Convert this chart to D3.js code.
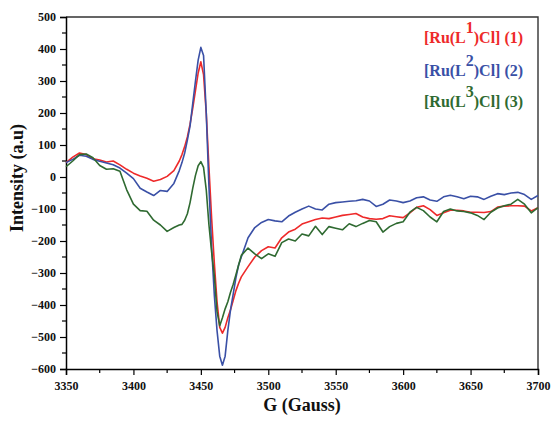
<!DOCTYPE html>
<html>
<head>
<meta charset="utf-8">
<script src="https://cdn.jsdelivr.net/npm/d3@7/dist/d3.min.js"></script>
<style>
  html, body { margin: 0; padding: 0; background: #fff; }
  svg { display: block; }
  text { font-family: "Liberation Serif", "Times New Roman", serif; font-weight: bold; }
</style>
</head>
<body>
<svg id="chart" width="553" height="423"></svg>
<script>
// ---- data ----
const field = [3350,3355,3360,3365,3370,3375,3380,3385,3390,3395,3400,3405,3410,3415,3420,3425,3430,3434,
  3436,3438,3440,3442,3444,3446,3448,3450,3452,3454,3456,3458,3460,3462,3464,3466,3468,3470,3472,3474,3476,3478,3480,
  3485,3490,3495,3500,3505,3510,3515,3520,3525,3530,3535,3540,3545,3550,3555,3560,3565,3570,3575,3580,3585,3590,3595,
  3600,3605,3610,3615,3620,3625,3630,3635,3640,3645,3650,3655,3660,3665,3670,3675,3680,3685,3690,3695,3700];

const red = [45,62,75,70,57,53,47,50,38,24,12,3,-4,-13,-8,2,20,50,
  70,95,125,165,215,270,325,360,320,200,30,-130,-270,-390,-470,-488,-470,-440,-415,-385,-355,-332,-312,
  -280,-250,-230,-218,-222,-190,-172,-163,-147,-140,-133,-128,-130,-125,-120,-117,-114,-125,-130,-132,-130,-121,-124,
  -127,-112,-95,-90,-102,-120,-112,-104,-104,-106,-110,-110,-111,-108,-94,-91,-90,-90,-91,-106,-96];

const blue = [45,55,68,65,55,49,44,38,28,12,-5,-35,-47,-58,-42,-45,-20,20,
  45,75,115,160,230,300,365,405,380,200,-30,-220,-370,-480,-560,-588,-560,-480,-415,-365,-315,-275,-250,
  -190,-158,-142,-133,-137,-140,-122,-110,-100,-91,-100,-103,-85,-80,-78,-76,-74,-70,-75,-92,-85,-72,-75,
  -80,-75,-65,-62,-72,-76,-62,-57,-62,-68,-60,-62,-70,-60,-52,-55,-50,-48,-55,-70,-58];

const green = [32,50,70,72,60,36,24,26,18,-40,-85,-105,-107,-135,-150,-170,-158,-150,
  -148,-135,-115,-80,-35,5,35,48,30,-40,-150,-235,-310,-420,-465,-440,-412,-390,-360,-335,-305,-275,-245,
  -222,-240,-255,-240,-248,-205,-194,-200,-178,-184,-154,-180,-155,-160,-165,-146,-155,-145,-136,-140,-172,-155,-145,
  -140,-110,-95,-105,-125,-140,-108,-100,-106,-108,-112,-120,-133,-110,-97,-90,-85,-70,-85,-112,-96];

const seriesNames = ["1", "2", "3"];
const xTicks = [3350,3400,3450,3500,3550,3600,3650,3700];
const yTicks = [-600,-500,-400,-300,-200,-100,0,100,200,300,400,500];
const xLabel = "G (Gauss)";
const yLabel = "Intensity (a.u)";

// ---- layout ----
const svg = d3.select("#chart");
const mLeft = 66, mRight = 538, mTop = 17, mBottom = 369;
const x = d3.scaleLinear().domain([3350, 3700]).range([mLeft, mRight]);
const y = d3.scaleLinear().domain([-600, 500]).range([mBottom, mTop]);

const colors = ["#ee2a2a", "#3a50a6", "#2f6a31"];
const seriesData = [red, blue, green];

// frame (top & right)
svg.append("path")
  .attr("d", `M${mLeft},${mTop}H${mRight}V${mBottom}`)
  .attr("fill", "none").attr("stroke", "#333").attr("stroke-width", 1.4);

// minor ticks
const g = svg.append("g");
d3.range(-550, 500, 100).forEach(v => {
  g.append("line").attr("x1", mLeft - 4).attr("x2", mLeft).attr("y1", y(v)).attr("y2", y(v))
    .attr("stroke", "#000").attr("stroke-width", 1.2);
});
d3.range(3375, 3700, 50).forEach(v => {
  g.append("line").attr("x1", x(v)).attr("x2", x(v)).attr("y1", mBottom).attr("y2", mBottom + 4)
    .attr("stroke", "#000").attr("stroke-width", 1.2);
});

// axes
const xAxis = svg.append("g").attr("transform", `translate(0,${mBottom})`)
  .call(d3.axisBottom(x).tickValues(xTicks).tickFormat(d3.format("d")).tickSizeOuter(0).tickSize(6).tickPadding(6));
const yAxis = svg.append("g").attr("transform", `translate(${mLeft},0)`)
  .call(d3.axisLeft(y).tickValues(yTicks).tickFormat(d3.format("d")).tickSizeOuter(0).tickSize(6).tickPadding(4));
[xAxis, yAxis].forEach(a => {
  a.select(".domain").attr("stroke", "#000").attr("stroke-width", 1.5);
  a.selectAll(".tick line").attr("stroke", "#000").attr("stroke-width", 1.2);
  a.selectAll(".tick text").attr("font-size", 12)
    .style("font-family", "'Liberation Serif', 'Times New Roman', serif")
    .attr("font-weight", "bold").attr("fill", "#111");
});

// lines
const line = d3.line().x((d, i) => x(field[i])).y(d => y(d));
[0, 1, 2].forEach(k => {
  svg.append("path").datum(seriesData[k])
    .attr("d", line)
    .attr("fill", "none")
    .attr("stroke", colors[k])
    .attr("stroke-width", 1.6)
    .attr("stroke-linejoin", "round");
});

// axis labels
svg.append("text").attr("x", 302).attr("y", 411).attr("text-anchor", "middle")
  .attr("font-size", 18).attr("fill", "#111").text(xLabel);
svg.append("text").attr("transform", "translate(23,178) rotate(-90)").attr("text-anchor", "middle")
  .attr("font-size", 18).attr("fill", "#111").text(yLabel);

// legend
const legY = [43, 76, 107];
seriesNames.forEach((n, k) => {
  const t = svg.append("text").attr("x", 424).attr("y", legY[k]).attr("font-size", 16).attr("fill", colors[k]);
  t.append("tspan").text("[Ru(L");
  t.append("tspan").attr("dy", -10).text(n);
  t.append("tspan").attr("dy", 10).text(")Cl] (" + n + ")");
});
</script>
</body>
</html>
